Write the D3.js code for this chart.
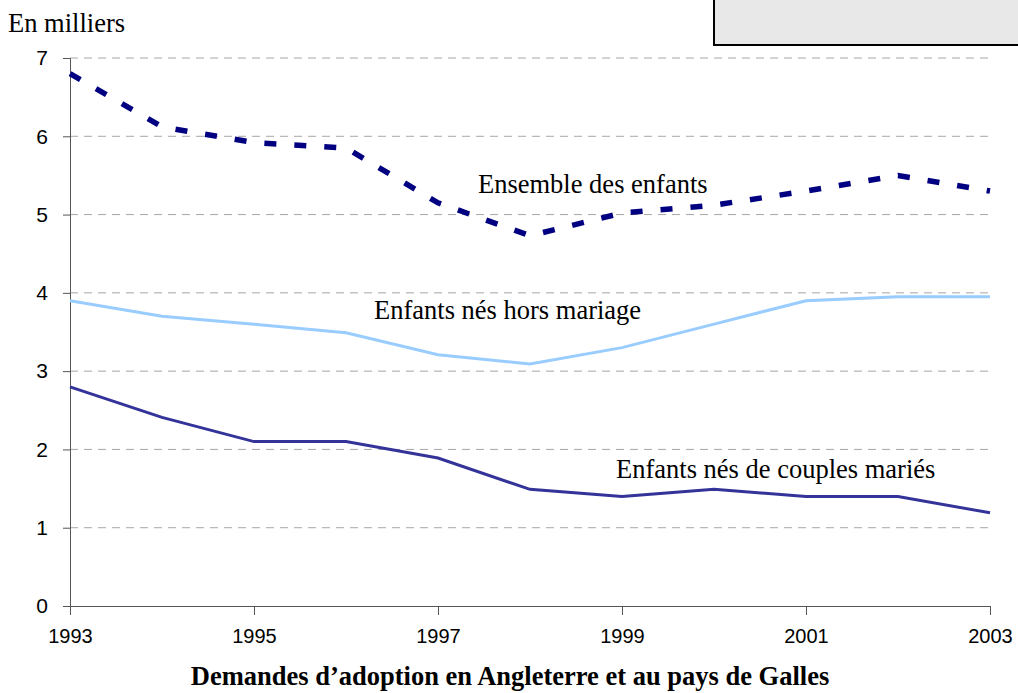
<!doctype html>
<html>
<head>
    <meta charset="utf-8">
    <title>Demandes d'adoption</title>
    <style>
        body { margin: 0; background: #fff; }
        svg { display: block; }
    </style>
    <script src="https://d3js.org/d3.v7.min.js"></script>
</head>
<body>
<svg width="1018" height="693"></svg>
<script>
    // data
    var years = [1993, 1994, 1995, 1996, 1997, 1998, 1999, 2000, 2001, 2002, 2003];
    var ensemble = [6.8, 6.12, 5.92, 5.85, 5.15, 4.73, 5.02, 5.12, 5.3, 5.5, 5.3];
    var horsMariage = [3.9, 3.7, 3.6, 3.49, 3.21, 3.09, 3.3, 3.6, 3.9, 3.95, 3.95];
    var couplesMaries = [2.8, 2.41, 2.1, 2.1, 1.89, 1.49, 1.4, 1.49, 1.4, 1.4, 1.19];
    var yTicks = [0, 1, 2, 3, 4, 5, 6, 7];
    var xTicks = [1993, 1995, 1997, 1999, 2001, 2003];

    var svg = d3.select("svg");

    var x = d3.scaleLinear().domain([1993, 2003]).range([70, 990]);
    var y = d3.scaleLinear().domain([0, 7]).range([606, 58]);

    // grey box top right
    svg.append("rect")
        .attr("x", 714).attr("y", -5)
        .attr("width", 320).attr("height", 50)
        .attr("fill", "#e8e8e8")
        .attr("stroke", "#000").attr("stroke-width", 2);

    // gridlines
    svg.append("g").selectAll("line")
        .data(yTicks.filter(function(d) { return d > 0; }))
        .enter().append("line")
        .attr("x1", 70).attr("x2", 990)
        .attr("y1", function(d) { return y(d); })
        .attr("y2", function(d) { return y(d); })
        .attr("stroke", "#a6a6a6")
        .attr("stroke-dasharray", "8,6");

    // axes
    var yAxis = svg.append("g")
        .attr("transform", "translate(70,0)")
        .call(d3.axisLeft(y).tickValues(yTicks).tickSize(7).tickPadding(15).tickFormat(d3.format("d")));
    yAxis.select(".domain").attr("stroke", "#555");
    yAxis.selectAll(".tick line").attr("stroke", "#555");
    yAxis.selectAll("text")
        .style("font-family", "'Liberation Sans', Arial, sans-serif")
        .style("font-size", "21px")
        .attr("fill", "#000");

    var xAxis = svg.append("g")
        .attr("transform", "translate(0,606)")
        .call(d3.axisBottom(x).tickValues(xTicks).tickSize(9).tickPadding(14).tickSizeOuter(0).tickFormat(d3.format("d")));
    xAxis.select(".domain").attr("stroke", "#555");
    xAxis.selectAll(".tick line").attr("stroke", "#555");
    xAxis.selectAll("text")
        .style("font-family", "'Liberation Sans', Arial, sans-serif")
        .style("font-size", "20px")
        .attr("fill", "#000");

    var line = d3.line()
        .x(function(d, i) { return x(years[i]); })
        .y(function(d) { return y(d); });

    svg.append("path")
        .datum(horsMariage)
        .attr("d", line)
        .attr("fill", "none")
        .attr("stroke", "#99ccff")
        .attr("stroke-width", 3);

    svg.append("path")
        .datum(couplesMaries)
        .attr("d", line)
        .attr("fill", "none")
        .attr("stroke", "#333399")
        .attr("stroke-width", 3);

    svg.append("path")
        .datum(ensemble)
        .attr("d", line)
        .attr("fill", "none")
        .attr("stroke", "#000080")
        .attr("stroke-width", 5.5)
        .attr("stroke-dasharray", "12,18");

    // labels
    var serif = "'Liberation Serif', 'Times New Roman', serif";
    function label(txt, lx, ly, size, weight, anchor) {
        svg.append("text")
            .attr("x", lx).attr("y", ly)
            .attr("text-anchor", anchor || "start")
            .style("font-family", serif)
            .style("font-size", size + "px")
            .style("font-weight", weight || "normal")
            .text(txt);
    }
    label("En milliers", 8, 32, 26.5);
    label("Ensemble des enfants", 478, 193, 26.5);
    label("Enfants nés hors mariage", 374, 319, 26.5);
    label("Enfants nés de couples mariés", 616, 478, 26.5);
    label("Demandes d\u2019adoption en Angleterre et au pays de Galles", 510, 685, 26.5, "bold", "middle");
</script>
</body>
</html>
